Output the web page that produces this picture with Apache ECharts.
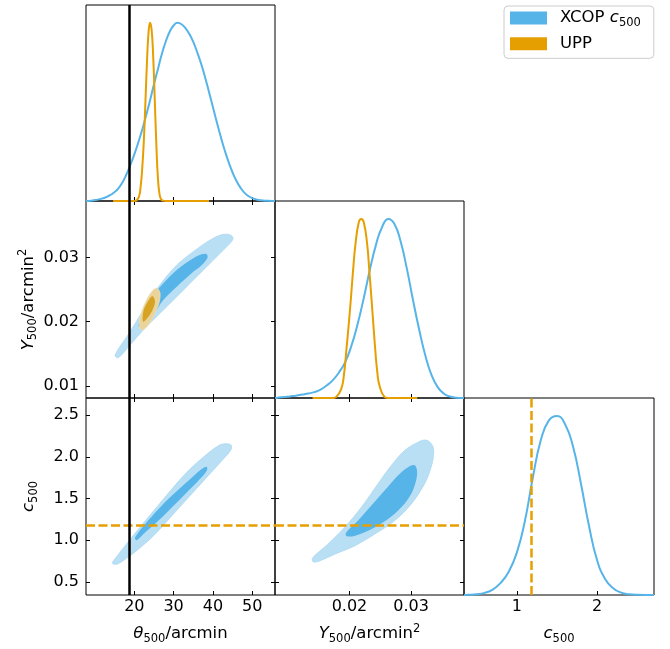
<!DOCTYPE html>
<html><head><meta charset="utf-8">
<script src="https://cdn.jsdelivr.net/npm/echarts@6/dist/echarts.min.js"></script>
<style>html,body{margin:0;padding:0;background:#fff}#c{width:670px;height:649px}</style>
</head><body><div id="c"></div>
<script>
// ---------------- data ----------------
// theta500 marginal (XCOP c500)
const thetaGrid = [7.7, 9, 10, 11, 12, 13, 14, 15, 16, 17, 18, 19, 20, 21, 22, 23, 24, 25, 26, 27, 28, 29, 30, 31, 32, 33, 34, 35, 36, 37, 38, 39, 40, 41, 42, 43, 44, 45, 46, 47, 48, 49, 50, 51, 52, 54, 55.8];
const thetaXcop = [0, 0.002, 0.005, 0.009, 0.015, 0.023, 0.035, 0.05, 0.072, 0.105, 0.15, 0.203, 0.262, 0.328, 0.40, 0.48, 0.565, 0.655, 0.74, 0.825, 0.895, 0.95, 0.985, 1.0, 0.992, 0.97, 0.937, 0.893, 0.835, 0.77, 0.695, 0.612, 0.527, 0.442, 0.36, 0.285, 0.218, 0.16, 0.112, 0.075, 0.047, 0.028, 0.016, 0.009, 0.004, 0.001, 0];
// theta500 marginal (UPP)
const thetaUppGrid = [14.6, 20.0, 20.6, 21.2, 21.6, 22.0, 22.4, 22.8, 23.2, 23.6, 24.0, 24.4, 24.8, 25.2, 25.6, 26.0, 26.4, 26.8, 27.3, 28.0, 39.0];
const thetaUpp = [0, 0, 0.004, 0.025, 0.08, 0.18, 0.33, 0.54, 0.77, 0.94, 1.0, 0.96, 0.81, 0.57, 0.32, 0.13, 0.04, 0.01, 0.002, 0, 0];
// Y500 marginal (XCOP c500)
const yGrid = [0.0079, 0.0083, 0.0093, 0.0103, 0.0113, 0.0123, 0.0133, 0.0143, 0.0153, 0.0163, 0.0173, 0.0183, 0.0193, 0.0203, 0.0213, 0.0223, 0.0233, 0.0243, 0.0253, 0.0263, 0.0273, 0.0283, 0.0293, 0.0303, 0.0313, 0.0323, 0.0333, 0.0343, 0.0353, 0.0363, 0.0373, 0.0386];
const yXcop = [0, 0.002, 0.005, 0.009, 0.013, 0.019, 0.025, 0.033, 0.047, 0.07, 0.10, 0.143, 0.20, 0.29, 0.41, 0.555, 0.715, 0.855, 0.955, 1.0, 0.972, 0.875, 0.725, 0.55, 0.385, 0.24, 0.13, 0.062, 0.025, 0.008, 0.002, 0];
// Y500 marginal (UPP)
const yUppGrid = [0.0140, 0.0172, 0.01784, 0.01865, 0.0191, 0.01947, 0.0199, 0.02028, 0.0206, 0.02097, 0.02151, 0.0219, 0.02232, 0.02287, 0.0232, 0.02352, 0.0239, 0.02421, 0.0245, 0.02486, 0.02567, 0.0262, 0.0310];
const yUpp = [0, 0, 0.006, 0.05, 0.13, 0.259, 0.42, 0.578, 0.72, 0.859, 0.981, 1.0, 0.981, 0.859, 0.72, 0.578, 0.40, 0.259, 0.15, 0.071, 0.006, 0, 0];
// c500 marginal (XCOP c500)
const cGrid = [0.343, 0.4, 0.5, 0.6, 0.7, 0.8, 0.9, 1.0, 1.1, 1.2, 1.3, 1.4, 1.5, 1.6, 1.7, 1.8, 1.9, 2.0, 2.1, 2.2, 2.3, 2.4, 2.5, 2.709];
const cXcop = [0, 0.001, 0.004, 0.012, 0.03, 0.068, 0.13, 0.235, 0.41, 0.655, 0.865, 0.975, 1.0, 0.955, 0.83, 0.62, 0.385, 0.195, 0.09, 0.038, 0.013, 0.004, 0.001, 0];

// reference values
const thetaRef = 18.65;   // black vertical line
const cUppValue = 1.175;  // UPP c500 (dashed)

// 2D contours (95% and 68%)
const thetaY_xcop95 = [[15.09,0.0148],[18.91,0.0184],[22.29,0.0218],[26.49,0.0257],[30.79,0.0288],[35.01,0.0309],[39.26,0.0327],[42.65,0.0336],[44.78,0.0334],[45.01,0.03274],[41.81,0.03065],[38.42,0.02857],[35.01,0.02650],[30.79,0.02389],[26.54,0.02131],[22.29,0.01871],[18.91,0.01637],[15.93,0.01439]];
const thetaY_xcop68 = [[21.02,0.01938],[23.16,0.02156],[23.99,0.02287],[25.27,0.02442],[27.38,0.02598],[30.79,0.02805],[35.01,0.02988],[37.15,0.03050],[38.42,0.03050],[38.58,0.02988],[36.72,0.02857],[35.01,0.02779],[30.79,0.02545],[27.38,0.02338],[25.70,0.02182],[23.99,0.02000],[22.29,0.01922]];
const thetaY_upp95 = [[25.70,0.02520],[26.54,0.02442],[26.11,0.02260],[24.83,0.02078],[23.16,0.01922],[21.88,0.01871],[21.27,0.01949],[21.63,0.02104],[22.72,0.02287],[24.43,0.02467]];
const thetaY_upp68 = [[24.83,0.02389],[25.27,0.02307],[24.50,0.02167],[23.23,0.02050],[22.29,0.02000],[22.09,0.02058],[22.47,0.02198],[23.61,0.02330],[24.38,0.02393]];
const thetaC_xcop95 = [[14.66,0.752],[17.63,0.932],[21.02,1.132],[25.27,1.372],[29.52,1.612],[33.74,1.832],[37.99,2.012],[41.37,2.132],[43.08,2.156],[44.61,2.140],[44.61,2.084],[42.24,1.952],[37.99,1.732],[33.74,1.512],[29.52,1.292],[25.27,1.072],[21.02,0.892],[17.63,0.772],[15.52,0.712],[14.40,0.724]];
const thetaC_xcop68 = [[20.18,1.032],[22.72,1.192],[26.11,1.372],[29.52,1.532],[33.74,1.712],[37.15,1.852],[38.42,1.880],[38.42,1.832],[36.28,1.712],[32.90,1.552],[29.52,1.392],[26.11,1.232],[22.72,1.092],[20.61,1.000]];
const yC_xcop95 = [[0.01405,0.792],[0.01648,0.952],[0.01919,1.152],[0.02190,1.392],[0.02459,1.672],[0.02676,1.892],[0.02891,2.072],[0.03107,2.172],[0.03243,2.200],[0.03350,2.132],[0.03366,2.032],[0.03324,1.872],[0.03216,1.672],[0.03000,1.432],[0.02729,1.232],[0.02405,1.072],[0.02081,0.932],[0.01757,0.832],[0.01486,0.744],[0.01405,0.744]];
const yC_xcop68 = [[0.01947,1.092],[0.02135,1.232],[0.02352,1.412],[0.02567,1.592],[0.02783,1.772],[0.02945,1.872],[0.03054,1.900],[0.03097,1.832],[0.03081,1.712],[0.03000,1.552],[0.02838,1.392],[0.02621,1.252],[0.02352,1.132],[0.02081,1.052],[0.01947,1.052]];

// ticks
const thetaTicks = [20, 30, 40, 50];
const yColTicks = [0.02, 0.03];
const yRowTicks = [0.01, 0.02, 0.03];
const cRowTicks = [0.5, 1.0, 1.5, 2.0, 2.5];
const cColTicks = [1, 2];

// axis ranges
const thetaRange = [7.7, 55.8];
const yColRange = [0.0079, 0.0386];
const yRowRange = [0.0081, 0.0388];
const cRowRange = [0.344, 2.704];
const cColRange = [0.343, 2.709];
const diagRange = [0, 1.1];

// ---------------- styling ----------------
const FF = 'DejaVu Sans';
const BLUE = '#56B4E9', ORANGE = '#E69F00';
const BLUE_L = '#b9dff5', BLUE_D = '#57b4e9';
const ORANGE_L = '#ead49b', ORANGE_D = '#d7a323';
const rich = {
  n: {fontFamily: FF, fontSize: 16.5, color: '#000', lineHeight: 22},
  i: {fontFamily: FF, fontSize: 16.5, fontStyle: 'italic', color: '#000', lineHeight: 22},
  sb: {fontFamily: FF, fontSize: 11.5, color: '#000', lineHeight: 12, verticalAlign: 'bottom'},
  sp: {fontFamily: FF, fontSize: 11.5, color: '#000', lineHeight: 12, verticalAlign: 'top'}
};
const thetaName = '{i|θ}{sb|500}{n|/arcmin}';
const yName = '{i|Y}{sb|500}{n|/arcmin}{sp|2}';
const cName = '{i|c}{sb|500}';

const grids = [
  {left: 86, top: 5, width: 189, height: 196},
  {left: 86, top: 201, width: 189, height: 197},
  {left: 275, top: 201, width: 189, height: 197},
  {left: 86, top: 398, width: 189, height: 197},
  {left: 275, top: 398, width: 189, height: 197},
  {left: 464, top: 398, width: 190, height: 197}
].map(g => Object.assign({show: true, borderColor: '#000', borderWidth: 1, backgroundColor: 'transparent', containLabel: false}, g));

function axis(gridIndex, position, range, ticks, labels, fmt, name, nameGap) {
  const vertical = position === 'left' || position === 'right';
  return {
    type: 'value', gridIndex, position, min: range[0], max: range[1],
    axisLine: {show: false}, splitLine: {show: false},
    axisTick: ticks ? {show: true, inside: true, length: 4, customValues: ticks, lineStyle: {color: '#000', width: 1}} : {show: false},
    axisLabel: labels ? {show: true, customValues: ticks, formatter: fmt, margin: vertical ? 7 : 4, fontFamily: FF, fontSize: 16, color: '#000'} : {show: false},
    name: name || '', nameLocation: 'middle', nameGap: nameGap || 0, nameRotate: vertical ? 90 : 0,
    nameTextStyle: {rich, fontFamily: FF, fontSize: 16.5, color: '#000'}
  };
}
const fInt = v => String(v);
const f2 = v => v.toFixed(2);
const f1 = v => v.toFixed(1);

const xAxes = [
  axis(0, 'bottom', thetaRange, thetaTicks, false),            //0
  axis(1, 'bottom', thetaRange, thetaTicks, false),            //1
  axis(1, 'top', thetaRange, thetaTicks, false),               //2
  axis(2, 'bottom', yColRange, yColTicks, false),              //3
  axis(3, 'bottom', thetaRange, thetaTicks, true, fInt, thetaName, 28), //4
  axis(3, 'top', thetaRange, thetaTicks, false),               //5
  axis(4, 'bottom', yColRange, yColTicks, true, f2, yName, 28),       //6
  axis(4, 'top', yColRange, yColTicks, false),                 //7
  axis(5, 'bottom', cColRange, cColTicks, true, fInt, cName, 28)      //8
];
const yAxes = [
  axis(0, 'left', diagRange, null, false),                     //0
  axis(1, 'left', yRowRange, yRowTicks, true, f2, yName, 46),  //1
  axis(1, 'right', yRowRange, yRowTicks, false),               //2
  axis(2, 'left', diagRange, null, false),                     //3
  axis(3, 'left', cRowRange, cRowTicks, true, f1, cName, 46),  //4
  axis(3, 'right', cRowRange, cRowTicks, false),               //5
  axis(4, 'left', cRowRange, cRowTicks, false),                //6
  axis(4, 'right', cRowRange, cRowTicks, false),               //7
  axis(5, 'left', diagRange, null, false)                      //8
];

function poly(name, pts, xi, yi, fill, stroke, z) {
  return {
    type: 'custom', name, xAxisIndex: xi, yAxisIndex: yi, data: pts, silent: true, z: z || 2,
    itemStyle: {color: name === 'UPP' ? ORANGE : BLUE},
    renderItem: (params, api) => {
      if (params.dataIndex !== 0) return null;
      return {type: 'polygon', shape: {points: pts.map(p => api.coord(p)), smooth: 0.35},
        style: {fill, stroke: stroke || null, lineWidth: stroke ? 0.8 : 0}};
    }
  };
}
function curve(name, xs, ys, xi, yi, color) {
  return {type: 'line', name, xAxisIndex: xi, yAxisIndex: yi, data: xs.map((x, k) => [x, ys[k]]),
    showSymbol: false, symbol: 'none', smooth: 0.5, z: 3, silent: true,
    itemStyle: {color}, lineStyle: {color, width: 2}};
}
function vline(xi, yi, spec, style) {
  return {type: 'line', xAxisIndex: xi, yAxisIndex: yi, data: [], z: 6, silent: true,
    markLine: {symbol: ['none', 'none'], silent: true, animation: false, label: {show: false},
      emphasis: {disabled: true}, lineStyle: style, data: [spec]}};
}
const blackStyle = {color: '#000', width: 2.5, type: 'solid'};
const dashStyle = {color: ORANGE, width: 2.5, type: [9, 3.5]};

const series = [
  poly('XCOP', thetaY_xcop95, 1, 1, BLUE_L, '#a9d8f3'),
  poly('UPP', thetaY_upp95, 1, 1, ORANGE_L, '#f0dfae', 3),
  poly('XCOP', thetaY_xcop68, 1, 1, BLUE_D),
  poly('UPP', thetaY_upp68, 1, 1, ORANGE_D, null, 3),
  poly('XCOP', thetaC_xcop95, 4, 4, BLUE_L, '#a9d8f3'),
  poly('XCOP', thetaC_xcop68, 4, 4, BLUE_D),
  poly('XCOP', yC_xcop95, 6, 6, BLUE_L, '#a9d8f3'),
  poly('XCOP', yC_xcop68, 6, 6, BLUE_D),
  curve('XCOP', thetaGrid, thetaXcop, 0, 0, BLUE),
  curve('UPP', thetaUppGrid, thetaUpp, 0, 0, ORANGE),
  curve('XCOP', yGrid, yXcop, 3, 3, BLUE),
  curve('UPP', yUppGrid, yUpp, 3, 3, ORANGE),
  curve('XCOP', cGrid, cXcop, 8, 8, BLUE),
  vline(0, 0, {xAxis: thetaRef}, blackStyle),
  vline(1, 1, {xAxis: thetaRef}, blackStyle),
  vline(4, 4, {yAxis: cUppValue}, dashStyle),
  vline(4, 4, {xAxis: thetaRef}, blackStyle),
  vline(6, 6, {yAxis: cUppValue}, dashStyle),
  vline(8, 8, {xAxis: cUppValue}, dashStyle)
];

const chart = echarts.init(document.getElementById('c'), null, {renderer: 'canvas', width: 670, height: 649});
chart.setOption({
  animation: false,
  backgroundColor: '#fff',
  grid: grids,
  xAxis: xAxes,
  yAxis: yAxes,
  legend: {
    left: 504, top: 6, orient: 'vertical', selectedMode: false,
    backgroundColor: '#fff', borderColor: '#cccccc', borderWidth: 1, borderRadius: 4,
    padding: [3.5, 13, 6, 6], itemGap: 6.3, itemWidth: 37, itemHeight: 13, icon: 'rect',
    data: [{name: 'XCOP', itemStyle: {color: BLUE}}, {name: 'UPP', itemStyle: {color: ORANGE}}],
    formatter: n => n === 'XCOP' ? '{n|XCOP }{i|c}{sb|500}' : '{n|UPP}',
    textStyle: {fontFamily: FF, fontSize: 16.5, color: '#000', padding: [0, 0, 0, 8], rich}
  },
  series
});
</script></body></html>
